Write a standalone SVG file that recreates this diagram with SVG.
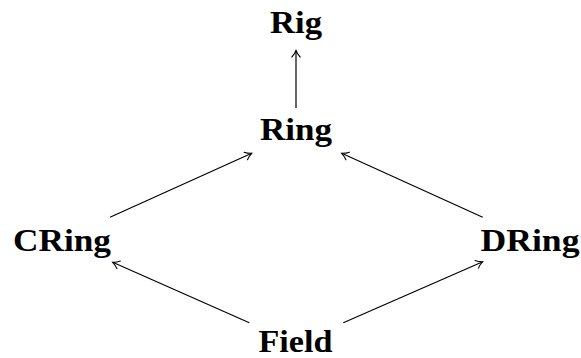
<svg xmlns="http://www.w3.org/2000/svg" width="581" height="358" viewBox="0 0 581 358">
<style>
text{font-family:"Liberation Serif","Times New Roman",serif;font-weight:bold;font-size:31px;fill:#000;text-anchor:middle}
.e{stroke:#000;stroke-width:1.2;fill:none;marker-end:url(#ah)}
</style>
<defs>
<marker id="ah" viewBox="-8 -5 10 10" markerWidth="10" markerHeight="10" refX="0" refY="0" orient="auto" markerUnits="userSpaceOnUse">
<path d="M-6.5,-4.2 C-4.5,-2.2 -1.5,-0.6 0,0 C-1.5,0.6 -4.5,2.2 -6.5,4.2" fill="none" stroke="#000" stroke-width="1.1" stroke-linecap="round"/>
</marker>
</defs>
<rect width="581" height="358" fill="#fff"/>
<g id="connectors">
<line class="e" x1="296" y1="108" x2="296" y2="50.5"/>
<line class="e" x1="110" y1="217.3" x2="251.7" y2="153.3"/>
<line class="e" x1="482.7" y1="217.3" x2="341.7" y2="153.3"/>
<line class="e" x1="249.3" y1="322.7" x2="112.7" y2="262.3"/>
<line class="e" x1="343.3" y1="322.7" x2="482.7" y2="261.7"/>
</g>
<g id="Rig"><text x="296" y="33" textLength="52" lengthAdjust="spacingAndGlyphs">Rig</text></g>
<g id="Ring"><text x="296" y="140" textLength="72" lengthAdjust="spacingAndGlyphs">Ring</text></g>
<g id="CRing"><text x="62" y="251" textLength="98" lengthAdjust="spacingAndGlyphs">CRing</text></g>
<g id="DRing"><text x="530" y="251" textLength="99" lengthAdjust="spacingAndGlyphs">DRing</text></g>
<g id="Field"><text x="295.5" y="352" textLength="74" lengthAdjust="spacingAndGlyphs">Field</text></g>
</svg>
